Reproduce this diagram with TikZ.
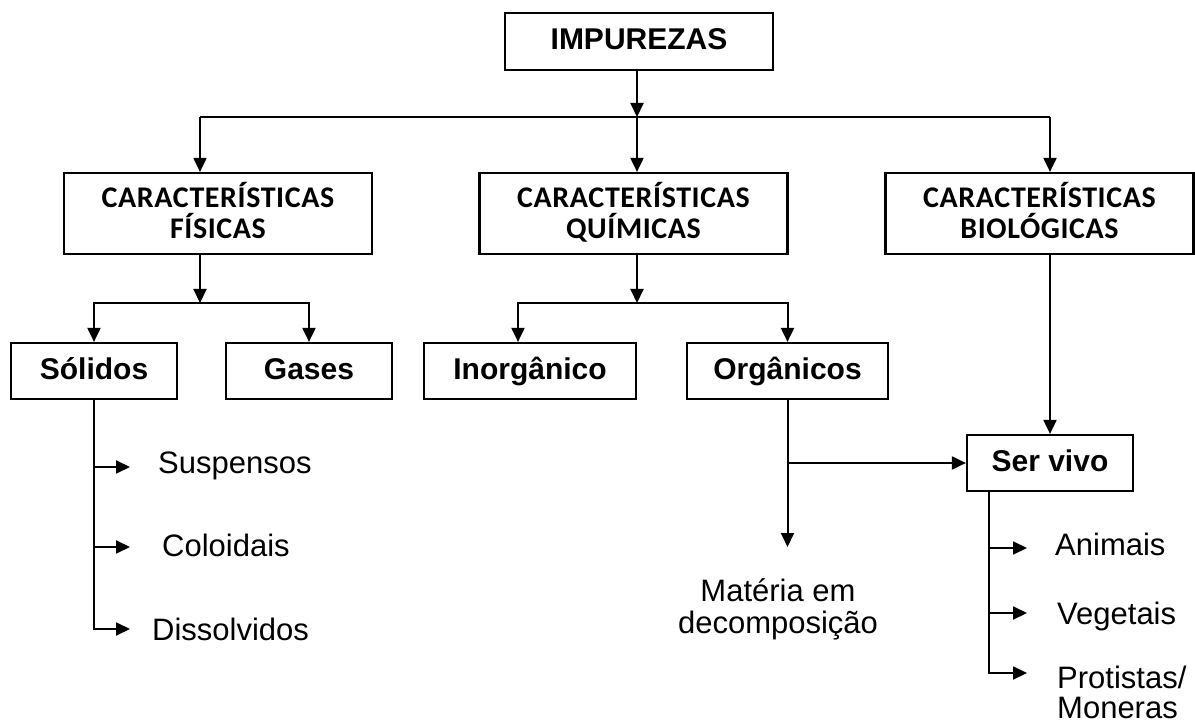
\documentclass[tikz,border=0pt]{standalone}
\usepackage{fontspec}
\setmainfont{Liberation Sans}
\newfontfamily\carl[LetterSpace=2]{Carlito}
\usetikzlibrary{arrows.meta,calc}
\begin{document}
\begin{tikzpicture}[x=1pt,y=-1pt,
  box/.style={draw, line width=2.2pt, inner sep=0pt, text height=22pt, text depth=5pt, font=\bfseries\fontsize{30}{31}\selectfont},
  cbox/.style={draw, line width=2.2pt, inner sep=0pt, align=center, minimum width=308pt, minimum height=81pt, text height=50pt, text depth=0pt, font=\carl\bfseries\fontsize{30}{31}\selectfont},
  arr/.style={line width=2pt, -{Triangle[length=14pt,width=13pt]}},
  ln/.style={line width=2pt},
  lbl/.style={inner sep=0pt, font=\fontsize{31}{32}\selectfont}]
\clip (0,0) rectangle (1195,727);
\fill[white] (0,0) rectangle (1195,727);

% boxes
\node[box, minimum width=268pt, minimum height=57pt] (imp) at (639,41.5) {IMPUREZAS};
\node[cbox] (fis) at (218,213.5) {CARACTERÍSTICAS\\FÍSICAS};
\node[cbox] (qui) at (633.5,213.5) {CARACTERÍSTICAS\\QUÍMICAS};
\node[cbox] (bio) at (1039.5,213.5) {CARACTERÍSTICAS\\BIOLÓGICAS};
\node[box, minimum width=166pt, minimum height=56pt] (sol) at (94,371) {Sólidos};
\node[box, minimum width=166pt, minimum height=56pt] (gas) at (309,371) {Gases};
\node[box, minimum width=212pt, minimum height=56pt] (ino) at (530,371) {Inorgânico};
\node[box, minimum width=201pt, minimum height=56pt] (org) at (787.5,371) {Orgânicos};
\node[box, minimum width=166pt, minimum height=56pt] (sv) at (1050,463) {Ser vivo};

% top level connectors
\coordinate (j0) at (637,117);
\coordinate (jf) at (200,117);
\coordinate (jb) at (1050,117);
\draw[arr] (imp.south -| j0) -- (j0);
\draw[ln] (jf) -- (jb);
\draw[arr] (jf) -- (jf |- fis.north);
\draw[arr] (j0) -- (j0 |- qui.north);
\draw[arr] (jb) -- (jb |- bio.north);

% physical
\coordinate (j1) at (200,303);
\draw[arr] (j1 |- fis.south) -- (j1);
\draw[arr] (j1) -| (sol.north);
\draw[arr] (j1) -| (gas.north);

% chemical
\coordinate (j2) at (637,303);
\coordinate (ji) at (518,303);
\draw[arr] (j2 |- qui.south) -- (j2);
\draw[arr] (j2) -- (ji) -- (ji |- ino.north);
\draw[arr] (j2) -| (org.north);

% biological
\draw[arr] (sv.north |- bio.south) -- (sv.north);

% organic branch
\coordinate (mend) at (787.5,547);
\draw[arr] (org.south) -- (mend);
\draw[arr] (org.south |- sv.west) -- (sv.west);
\node[lbl, align=center] (mat) at (778,609) {Matéria em\\decomposição};

% solids branch
\coordinate (a1) at (130,467);
\coordinate (a2) at (130,547);
\coordinate (a3) at (130,629);
\draw[arr] (sol.south) |- (a3);
\draw[arr] (sol.south |- a1) -- (a1);
\draw[arr] (sol.south |- a2) -- (a2);
\node[lbl, anchor=base west] (sus) at (158,473) {Suspensos};
\node[lbl, anchor=base west] (col) at (162,556) {Coloidais};
\node[lbl, anchor=base west] (dis) at (152,640) {Dissolvidos};

% living beings branch
\coordinate (sv0) at ($(sv.south west)+(23,0)$);
\coordinate (b1) at (1027,548);
\coordinate (b2) at (1027,613);
\coordinate (b3) at (1027,673);
\draw[arr] (sv0) |- (b3);
\draw[arr] (sv0 |- b1) -- (b1);
\draw[arr] (sv0 |- b2) -- (b2);
\node[lbl, anchor=base west] (ani) at (1055,555) {Animais};
\node[lbl, anchor=base west] (veg) at (1057,624) {Vegetais};
\node[lbl, anchor=base west, align=left, font=\fontsize{31}{30}\selectfont] (pro) at (1057,718) {Protistas/\\Moneras};
\end{tikzpicture}
\end{document}
